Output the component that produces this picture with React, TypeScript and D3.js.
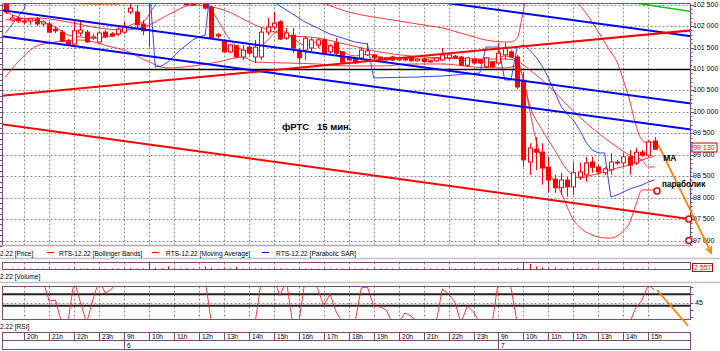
import React from "react";
import * as d3 from "d3";

const W = 720;
const H = 351;
const FONT = "'Liberation Sans', Arial, sans-serif";
const PURPLE = "#7a4a7a";
const GRID = "#8a8a8a";

// time axis
const hourLabels = ["20h", "21h", "22h", "23h", "9h", "10h", "11h", "12h", "13h", "14h", "15h", "16h", "17h", "18h", "19h", "20h", "21h", "22h", "23h", "9h", "10h", "11h", "12h", "13h", "14h", "15h"];
const dayLabels = [{ label: "6", slot: 19 }, { label: "7", slot: 79 }];
const priceTicks = [97000, 97500, 98000, 98500, 99000, 99500, 100000, 100500, 101000, 101500, 102000, 102500];

// 15 min candles
const opens = [102520, 102140, 102170, 102120, 102120, 102170, 102050, 102050, 101930, 101860, 101650, 101580, 101840, 101860, 101720, 101630, 101860, 101820, 101820, 101860, 102330, 102330, 102050, 102750, 102950, 103050, 102980, 102850, 102700, 102700, 102600, 102560, 102650, 102440, 101800, 101650, 101400, 101540, 101280, 101510, 101280, 101280, 101860, 101980, 102100, 101720, 101790, 101440, 101440, 101490, 101560, 101680, 101400, 101610, 101400, 101280, 101260, 101260, 101330, 101330, 101260, 101240, 101280, 101210, 101240, 101280, 101190, 101230, 101170, 101190, 101210, 101260, 101300, 101280, 101090, 101230, 101210, 101050, 101160, 101140, 101330, 101400, 101280, 100740, 98830, 99130, 99060, 98710, 98430, 98230, 98410, 98250, 98480, 98530, 98830, 98710, 98580, 98650, 98830, 98810, 98950, 98810, 99060, 98990, 99320];
const highs = [102540, 102260, 102210, 102170, 102190, 102210, 102140, 102100, 101980, 101910, 101700, 102140, 102140, 101910, 101820, 101890, 101910, 101860, 101980, 102100, 102540, 102490, 102140, 103050, 103150, 103200, 103100, 103000, 102850, 102800, 102700, 102700, 102750, 102480, 101840, 101700, 101580, 101560, 101560, 101560, 101680, 101960, 102190, 102330, 102140, 101960, 101960, 101490, 101770, 101720, 101720, 101720, 101580, 101720, 101420, 101300, 101280, 101510, 101610, 101350, 101300, 101280, 101300, 101260, 101260, 101300, 101240, 101250, 101210, 101280, 101490, 101350, 101330, 101300, 101280, 101260, 101230, 101280, 101190, 101610, 101610, 101440, 101330, 100930, 99270, 99410, 99270, 98950, 98530, 98580, 98480, 98830, 98810, 98950, 98950, 98760, 98710, 99040, 98880, 99040, 99110, 99160, 99110, 99340, 99410];
const lows = [102280, 102100, 102070, 102050, 102030, 102000, 102000, 101840, 101840, 101630, 101540, 101560, 101770, 101610, 101680, 101610, 101720, 101750, 101770, 101820, 102280, 101960, 101790, 101510, 102700, 102900, 102800, 102650, 102600, 102480, 102480, 102550, 102380, 101700, 101720, 101380, 101370, 101250, 101210, 101330, 101140, 101210, 101790, 101910, 101680, 101680, 101370, 101140, 101210, 101420, 101490, 101330, 101350, 101330, 101120, 101190, 101120, 101230, 101300, 101230, 101210, 101190, 101190, 101190, 101180, 101170, 101170, 101150, 101150, 101170, 101190, 101210, 101230, 101070, 101050, 101120, 101120, 101020, 101030, 101120, 101210, 101260, 100530, 98720, 98530, 98640, 98300, 98130, 98110, 98060, 98020, 98060, 98410, 98370, 98580, 98530, 98530, 98530, 98760, 98710, 98530, 98760, 98950, 98950, 99110];
const closes = [102330, 102190, 102120, 102100, 102170, 102050, 102100, 101860, 101890, 101650, 101560, 101890, 101910, 101630, 101750, 101840, 101750, 101770, 101930, 102000, 102420, 102030, 101890, 102950, 103050, 102980, 102850, 102700, 102650, 102500, 102490, 102650, 102420, 101720, 101770, 101400, 101560, 101280, 101440, 101370, 101510, 101860, 101980, 102070, 101700, 101840, 101490, 101260, 101720, 101680, 101680, 101370, 101540, 101370, 101160, 101210, 101140, 101440, 101420, 101260, 101240, 101260, 101210, 101240, 101210, 101190, 101230, 101170, 101190, 101260, 101330, 101330, 101260, 101090, 101260, 101140, 101140, 101260, 101050, 101370, 101490, 101280, 100580, 98880, 99160, 99060, 98690, 98410, 98230, 98410, 98250, 98580, 98600, 98810, 98710, 98600, 98670, 98830, 98810, 98950, 98760, 99060, 98990, 99300, 99130];
const volumes = [6000, 5000, 4000, 7000, 5000, 6000, 4000, 8000, 5000, 7000, 6000, 8000, 5000, 6000, 4000, 5000, 6000, 4000, 5000, 7000, 9000, 8000, 7000, 45000, 12000, 9000, 22000, 8000, 7000, 9000, 8000, 6000, 22000, 12000, 7000, 9000, 8000, 20000, 7000, 6000, 8000, 9000, 7000, 6000, 8000, 5000, 7000, 6000, 5000, 6000, 4000, 7000, 5000, 6000, 7000, 5000, 4000, 6000, 5000, 3000, 4000, 3000, 4000, 3000, 4000, 3000, 3000, 4000, 3000, 3000, 5000, 4000, 3000, 5000, 4000, 3000, 4000, 5000, 4000, 6000, 8000, 6000, 12000, 48000, 40000, 22000, 15000, 9000, 14000, 8000, 7000, 9000, 6000, 7000, 5000, 4000, 5000, 6000, 4000, 5000, 6000, 5000, 4000, 6000, 2557];
const rsiValues = [85, 85, 85, 85, 85, 85, 85, 48, 50, 10, 10, 85, 46, 10, 50, 85, 62, 69, 85, 85, 85, 85, 85, 85, 85, 85, 85, 85, 85, 85, 85, 85, 85, 10, 10, 10, 10, 10, 10, 10, 10, 85, 85, 85, 58, 85, 10, 10, 85, 85, 71, 39.5, 60.5, 29, 10, 10, 10, 71, 72.8, 39.5, 37.7, 32.5, 10, 10, 27.2, 21.9, 10, 10, 10, 10, 69.3, 60.5, 46.5, 10, 39.5, 29, 10, 10, 10, 85, 85, 72, 10, 10, 10, 10, 10, 10, 10, 10, 10, 10, 10, 10, 10, 10, 10, 10, 10, 10, 10, 36, 50, 76, 67.5];

// indicators, [slot, price]
const upperBand = [[0, 102842], [4, 102702], [7, 102562], [10, 102539], [14, 102516], [18, 102516], [19, 102562], [20, 102749], [23, 103075], [30, 103541], [40, 103192], [46, 102796], [50, 102609], [51, 102539], [53, 102422], [55, 102329], [58, 102236], [62, 102143], [66, 102049], [70, 101956], [74, 101793], [77, 101676], [80, 101630], [81, 101630], [82, 101723], [83, 102376], [84, 103075], [88, 103541], [91, 102609], [92, 102492], [93, 102306], [94, 102096], [95, 101863], [96, 101630], [97, 101396], [98, 101163], [99, 100743], [100, 100277], [101, 99694], [102, 99344], [103, 99274], [104, 99298]];
const middleBand = [[0, 102143], [5, 102189], [10, 102096], [15, 101956], [19, 101909], [23, 102026], [26, 102259], [30, 102492], [35, 102376], [40, 102026], [45, 101793], [50, 101723], [55, 101560], [60, 101396], [65, 101303], [70, 101257], [75, 101233], [80, 101233], [82, 101187], [83, 101093], [84, 100977], [86, 100743], [88, 100464], [90, 100160], [92, 99881], [94, 99624], [96, 99391], [98, 99181], [100, 98994], [102, 98878], [103, 98714], [104, 98714]];
const lowerBand = [[0, 100813], [2, 101163], [4, 101443], [5, 101537], [7, 101606], [12, 101676], [17, 101513], [19, 101443], [23, 101163], [26, 101023], [30, 101070], [34, 101163], [38, 101280], [40, 101163], [45, 101140], [50, 101117], [55, 101070], [60, 101070], [65, 101117], [70, 101117], [75, 101047], [80, 101023], [82, 101070], [83, 100743], [84, 100044], [85, 99344], [86, 98878], [87, 98598], [88, 98365], [89, 98132], [90, 97782], [91, 97479], [92, 97315], [93, 97199], [94, 97129], [95, 97082], [96, 97059], [97, 97059], [98, 97106], [99, 97222], [100, 97409], [101, 97828], [102, 98178], [103, 98178], [104, 98178]];
const maLine = [[0, 102329], [2, 102213], [4, 102143], [6, 102096], [8, 101979], [10, 101793], [12, 101746], [14, 101723], [16, 101746], [18, 101816], [20, 102026], [22, 102096], [24, 102492], [26, 102842], [28, 102959], [30, 102842], [32, 102609], [34, 102143], [36, 101676], [38, 101443], [40, 101396], [42, 101676], [44, 101909], [46, 101723], [48, 101560], [50, 101630], [52, 101537], [54, 101396], [56, 101303], [58, 101350], [60, 101280], [62, 101257], [64, 101257], [66, 101233], [68, 101233], [70, 101257], [72, 101257], [74, 101187], [76, 101187], [78, 101163], [80, 101303], [82, 101210], [83, 100743], [84, 100160], [86, 99577], [88, 99111], [90, 98645], [92, 98458], [94, 98528], [96, 98598], [98, 98691], [100, 98761], [102, 98878], [104, 98971]];
const sarLine = [[0, 101840], [1, 102026], [2, 102213], [3, 102399], [4, 103075], [23, 103075], [24, 101047], [25, 101070], [26, 101163], [27, 101303], [28, 101443], [29, 101560], [30, 101676], [31, 101746], [32, 101793], [33, 103075], [42, 103075], [43, 102562], [44, 102469], [45, 102376], [46, 102283], [47, 102189], [48, 102096], [49, 102026], [50, 101956], [51, 101886], [52, 101816], [53, 101770], [54, 101723], [55, 101676], [56, 101630], [57, 101606], [58, 101583], [59, 100790], [62, 100802], [66, 100813], [70, 100837], [74, 100883], [76, 100907], [77, 101513], [78, 101513], [79, 101513], [80, 100743], [81, 100743], [82, 101513], [83, 101560], [84, 101443], [85, 101280], [86, 101070], [87, 100790], [88, 100464], [89, 100137], [90, 99951], [91, 99811], [92, 99577], [93, 99298], [94, 99111], [95, 99041], [96, 99041], [97, 98015], [98, 98062], [99, 98132], [100, 98202], [101, 98248], [102, 98295], [103, 98365], [104, 98412]];

// channel lines drawn on the chart, [slot, price] end points
const blueLines = [
  [[-1, 102378], [110, 100190]],
  [[-1, 101772], [110, 99584]],
  [[60, 102750], [110, 101763]],
];
const redLines = [
  [[-1, 100368], [110, 101903]],
  [[-1, 99720], [110, 97495]],
];
const greenLine = [[100, 102560], [110, 102340]];
const markers = [[109.5, 97500], [109.5, 97000], [104.4, 98155]];
const arrowPrice = [[104.6, 99228], [113.1, 96709]];
const arrowRsi = [[104.4, 67.5], [109.4, 4.4]];

const fmt = (v: number) => d3.format(",")(v).replace(/,/g, " ");

export default function App() {
  const P = { left: 2.5, right: 690.5, top: 3.5, bottom: 245 };
  const VOL = { top: 262.5, bottom: 269.5 };
  const RSI = { top: 286.5, bottom: 319.5 };
  const TIME = { top: 332.5, mid: 340.5, bottom: 349.5 };

  const x = d3.scaleLinear().domain([0, 104]).range([5.5, 654.5]);
  const y = d3.scaleLinear().domain([97000, 101000]).range([240.5, 69]);
  const vy = d3.scaleLinear().domain([0, 50000]).range([VOL.bottom, VOL.top]);
  const ry = d3.scaleLinear().domain([40, 60]).range([305.7, 294.3]);
  const px = (s: number) => Math.round(x(s)) + 0.5;
  const py = (p: number) => Math.round(y(p)) + 0.5;

  const hourSlots = hourLabels.map((_, i) => 3 + 4 * i);
  const line = d3.line<number[]>().x((d) => x(d[0])).y((d) => y(d[1]));
  const curve = d3.line<number[]>().x((d) => x(d[0])).y((d) => y(d[1])).curve(d3.curveMonotoneX);
  const rsiLine = d3.line<number>().x((_, i) => x(i)).y((d) => ry(d));

  const minorTicks = d3.range(96900, 102600, 100);
  const leftTicks = d3.range(96875, 102600, 125);
  const last = closes[closes.length - 1];

  // orange arrow head
  const [a0, a1] = arrowPrice.map((d) => [x(d[0]), y(d[1])]);
  const ang = Math.atan2(a1[1] - a0[1], a1[0] - a0[0]);
  const head = [ang + Math.PI - 0.45, ang + Math.PI + 0.45].map((t) => [a1[0] + 7 * Math.cos(t), a1[1] + 7 * Math.sin(t)]);

  const small = { fontFamily: FONT, fontSize: 6.6 };

  return (
    <svg width={W} height={H} style={{ position: "absolute", left: 0, top: 0, background: "#fff" }}>
      <defs>
        <clipPath id="pclip"><rect x={P.left} y={P.top} width={P.right - P.left} height={P.bottom - P.top} /></clipPath>
        <clipPath id="rclip"><rect x={P.left} y={RSI.top} width={P.right - P.left} height={RSI.bottom - RSI.top} /></clipPath>
      </defs>
      <rect width={W} height={H} fill="#fff" />

      {/* price grid */}
      <g stroke={GRID} strokeDasharray="2,2" strokeWidth={1}>
        {priceTicks.filter((p) => p !== 101000).map((p) => (
          <line key={p} x1={P.left} x2={P.right} y1={py(p)} y2={py(p)} />
        ))}
        {hourSlots.map((s) => (
          <g key={s}>
            <line x1={px(s)} x2={px(s)} y1={P.top} y2={P.bottom} />
            <line x1={px(s)} x2={px(s)} y1={VOL.top} y2={VOL.bottom} />
            <line x1={px(s)} x2={px(s)} y1={RSI.top} y2={RSI.bottom} />
          </g>
        ))}
        <line x1={P.left} x2={P.right} y1={Math.round(ry(45)) + 0.5} y2={Math.round(ry(45)) + 0.5} />
      </g>

      <g clipPath="url(#pclip)">
        <line x1={P.left} x2={P.right} y1={py(101000)} y2={py(101000)} stroke="#000" strokeWidth={1.3} />
        {/* indicators */}
        <g fill="none" stroke="#ff2020" strokeWidth={0.9}>
          <path d={curve(upperBand) || ""} />
          <path d={curve(middleBand) || ""} />
          <path d={curve(lowerBand) || ""} />
          <path d={curve(maLine) || ""} />
        </g>
        <path d={line(sarLine) || ""} fill="none" stroke="#2a2aff" strokeWidth={0.9} />
        {/* candles */}
        {closes.map((c, i) => {
          const o = opens[i];
          const up = c >= o;
          const top = y(Math.max(o, c));
          const bot = y(Math.min(o, c));
          const cx = px(i);
          return (
            <g key={i}>
              <line x1={cx} x2={cx} y1={y(highs[i])} y2={y(lows[i])} stroke="#ff0000" strokeWidth={1} />
              <rect x={cx - 2} y={top} width={4} height={Math.max(1, bot - top)} fill={up ? "#fff" : "#ff0000"} stroke="#ff0000" strokeWidth={1} />
            </g>
          );
        })}
        {/* channels */}
        {blueLines.map((l, i) => <path key={"b" + i} d={line(l) || ""} stroke="#0000ff" strokeWidth={2} fill="none" />)}
        {redLines.map((l, i) => <path key={"r" + i} d={line(l) || ""} stroke="#ff0000" strokeWidth={2} fill="none" />)}
        <path d={line(greenLine) || ""} stroke="#00cc00" strokeWidth={1.5} fill="none" />
      </g>

      {/* price panel frame */}
      <line x1={P.left} x2={P.right} y1={P.top} y2={P.top} stroke={PURPLE} />
      <line x1={P.left} x2={P.left} y1={P.top} y2={P.bottom} stroke={PURPLE} />
      <line x1={P.right} x2={P.right} y1={P.top} y2={P.bottom} stroke={PURPLE} />
      <line x1={0} x2={P.right} y1={245.5} y2={245.5} stroke="#b8a8b8" strokeWidth={1.5} />
      {leftTicks.map((t) => <line key={t} x1={0} x2={P.left} y1={py(t)} y2={py(t)} stroke={PURPLE} />)}
      {minorTicks.filter((t) => y(t) > P.top && y(t) < P.bottom).map((t) => (
        <line key={t} x1={P.right} x2={P.right + (t % 500 === 0 ? 3.5 : 2)} y1={py(t)} y2={py(t)} stroke={PURPLE} />
      ))}
      {priceTicks.map((p) => (
        <text key={p} x={693} y={y(p) + 2} {...small} fontSize={7} fill="#000">{fmt(p)}</text>
      ))}
      <rect x={692} y={Math.round(y(last)) - 6} width={25} height={9} fill="#fff" stroke="#cc0000" />
      <text x={693.5} y={Math.round(y(last)) + 1} {...small} fontSize={6.8} fill="#ff0000">{fmt(last)}</text>

      {/* markers and annotations */}
      {markers.map((m, i) => (
        <circle key={i} cx={x(m[0])} cy={y(m[1])} r={3} fill="#fff" stroke="#ee0000" strokeWidth={1.5} />
      ))}
      <line x1={a0[0]} y1={a0[1]} x2={a1[0]} y2={a1[1]} stroke="#ff8000" strokeWidth={1.8} />
      <path d={`M${head[0][0]},${head[0][1]}L${a1[0]},${a1[1]}L${head[1][0]},${head[1][1]}`} fill="none" stroke="#ff8000" strokeWidth={1.6} />
      <text x={x(44.3)} y={y(99577)} fontFamily={FONT} fontSize={9.5} fontWeight="bold" style={{ whiteSpace: "pre" }}>{"фРТС   15 мин."}</text>
      <text x={x(105.4)} y={y(98855)} fontFamily={FONT} fontSize={8.5} fontWeight="bold">MA</text>
      <text x={x(105.2)} y={y(98245)} fontFamily={FONT} fontSize={8.2} fontWeight="bold">параболик</text>

      {/* legend row */}
      <line x1={0} x2={W} y1={258.5} y2={258.5} stroke="#c4c0c4" strokeWidth={1.5} />
      <text x={0} y={255.5} {...small}>2.22 [Price]</text>
      <line x1={47} x2={54} y1={252.5} y2={252.5} stroke="#ff0000" />
      <text x={59} y={255.5} {...small}>RTS-12.22 [Bollinger Bands]</text>
      <line x1={152} x2={159} y1={252.5} y2={252.5} stroke="#ff0000" />
      <text x={166} y={255.5} {...small}>RTS-12.22 [Moving Average]</text>
      <line x1={262} x2={269} y1={252.5} y2={252.5} stroke="#0000ff" />
      <text x={276} y={255.5} {...small}>RTS-12.22 [Parabolic SAR]</text>

      {/* volume */}
      <rect x={P.left} y={VOL.top} width={P.right - P.left} height={VOL.bottom - VOL.top} fill="none" stroke={PURPLE} />
      {volumes.map((v, i) => (
        <line key={i} x1={px(i)} x2={px(i)} y1={VOL.bottom} y2={Math.min(VOL.bottom - 1, vy(v))} stroke="#ff0000" />
      ))}
      <rect x={692.5} y={263.5} width={20} height={8} fill="#fff" stroke="#cc0000" />
      <text x={694} y={270} {...small} fontSize={7} fill="#ff0000">{fmt(volumes[volumes.length - 1])}</text>
      <text x={0} y={278.5} {...small}>2.22 [Volume]</text>
      <line x1={0} x2={W} y1={282.5} y2={282.5} stroke="#c4c0c4" strokeWidth={1.5} />

      {/* RSI */}
      <line x1={P.left} x2={P.right} y1={ry(60)} y2={ry(60)} stroke="#222" strokeWidth={2} />
      <line x1={P.left} x2={P.right} y1={ry(40)} y2={ry(40)} stroke="#222" strokeWidth={2} />
      <path d={rsiLine(rsiValues) || ""} fill="none" stroke="#ff2020" strokeWidth={0.9} clipPath="url(#rclip)" />
      <rect x={P.left} y={RSI.top} width={P.right - P.left} height={RSI.bottom - RSI.top} fill="none" stroke={PURPLE} />
      {[72, 60, 45, 32, 21].map((t) => (
        <line key={t} x1={P.right} x2={P.right + 3} y1={Math.round(ry(t)) + 0.5} y2={Math.round(ry(t)) + 0.5} stroke={PURPLE} />
      ))}
      <text x={695} y={ry(45) + 2.5} {...small} fontSize={7}>45</text>
      <line x1={x(arrowRsi[0][0])} y1={ry(arrowRsi[0][1])} x2={x(arrowRsi[1][0])} y2={ry(arrowRsi[1][1])} stroke="#ff8000" strokeWidth={1.8} />
      <text x={0} y={328.5} {...small}>2.22 [RSI]</text>

      {/* time axis */}
      <rect x={P.left} y={TIME.top} width={P.right - P.left} height={TIME.bottom - TIME.top} fill="none" stroke={PURPLE} />
      <line x1={P.left} x2={P.right} y1={TIME.mid} y2={TIME.mid} stroke={PURPLE} />
      {hourSlots.map((s, i) => (
        <g key={s}>
          <line x1={px(s)} x2={px(s)} y1={TIME.top} y2={TIME.mid} stroke={PURPLE} />
          <text x={px(s) + 2.5} y={339} {...small}>{hourLabels[i]}</text>
        </g>
      ))}
      {dayLabels.map((d) => (
        <g key={d.label}>
          <line x1={px(d.slot)} x2={px(d.slot)} y1={TIME.mid} y2={TIME.bottom} stroke={PURPLE} />
          <text x={px(d.slot) + 2.5} y={347.5} {...small}>{d.label}</text>
        </g>
      ))}
    </svg>
  );
}
